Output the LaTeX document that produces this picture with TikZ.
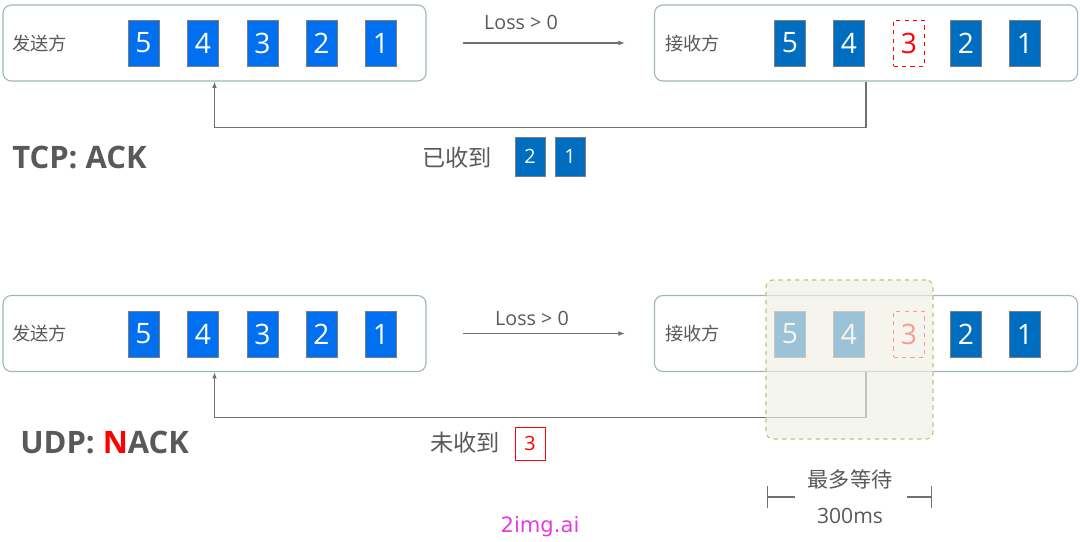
\documentclass[tikz,border=0pt]{standalone}
\usepackage{fontspec}
\setmainfont{Open Sans}
\newfontfamily\cjk{Noto Sans CJK SC}
\usepackage{xcolor}
\definecolor{boxline}{RGB}{160,182,188}
\definecolor{pktline}{RGB}{125,125,125}
\definecolor{sendblue}{RGB}{0,112,240}
\definecolor{recvblue}{RGB}{0,110,192}
\definecolor{textgray}{RGB}{89,89,89}
\definecolor{linegray}{RGB}{112,112,112}
\definecolor{lossred}{RGB}{255,0,0}
\definecolor{waitfill}{RGB}{240,240,230}
\definecolor{waitline}{RGB}{190,196,120}
\definecolor{markcolor}{RGB}{228,60,228}
\usepackage{tikz}
\usetikzlibrary{positioning,arrows.meta,calc}
\tikzset{
  endbox/.style={rectangle,rounded corners=6pt,draw=boxline,line width=0.8pt,
    fill=white,minimum width=10.575cm,minimum height=1.9cm,inner sep=0pt},
  rolelbl/.style={anchor=west,text=textgray,font=\fontsize{13}{13}\selectfont\cjk,inner sep=0pt},
  sendpkt/.style={rectangle,draw=pktline,line width=0.6pt,fill=sendblue,text=white,
    font=\fontsize{20}{20}\selectfont,minimum width=0.775cm,minimum height=1.15cm,inner sep=0pt},
  recvpkt/.style={sendpkt,fill=recvblue},
  losspkt/.style={sendpkt,fill=none,draw=lossred,dashed,text=lossred},
  smallpkt/.style={recvpkt,font=\fontsize{14}{14}\selectfont,minimum width=0.75cm,minimum height=0.975cm},
  lbl/.style={text=textgray,font=\fontsize{14}{14}\selectfont,inner sep=0pt},
  cjklbl/.style={text=textgray,font=\fontsize{16.5}{16.5}\selectfont\cjk,inner sep=0pt},
  title/.style={anchor=west,text=textgray,font=\fontsize{22}{22}\selectfont\bfseries,inner sep=0pt},
  fl/.style={-{Latex[length=1.6mm,width=1.2mm]},draw=linegray,line width=0.8pt},
  waitbox/.style={rectangle,rounded corners=5pt,draw=waitline,dashed,line width=0.8pt,
    fill=waitfill,fill opacity=0.65,minimum width=4.175cm,minimum height=3.975cm,inner sep=0pt},
  dim/.style={draw=linegray,line width=0.8pt},
}

\begin{document}
\begin{tikzpicture}[x=0.025cm,y=-0.025cm]
  \useasboundingbox (0,0) rectangle (1080,541);
  % TCP
  \node[endbox] (s1) at (214.5,43) {};
  \node[rolelbl] (s1lbl) at (12,44) {发送方};
  \foreach \n/\x in {5/143.5,4/203,3/262.5,2/321.5,1/381}{\node[sendpkt] (s1p\n) at (\x,43) {\n};}
  \node[endbox] (r1) at (866,43) {};
  \node[rolelbl] (r1lbl) at (665,44) {接收方};
  \foreach \n/\x in {5/790,4/849,2/966,1/1025}{\node[recvpkt] (r1p\n) at (\x,43) {\n};}
  \node[losspkt] (r1p3) at (909,43) {3};
  \draw[fl,shorten <=0.9cm,shorten >=0.725cm] (s1) -- (r1);
  \node[lbl] (loss1) at (521,22) {Loss > 0};
  \draw[fl] (r1.south) -- ++(0,46) -| (s1.south);
  \node[title] (tcp) at (12,157) {TCP: ACK};
  \node[cjklbl] (ack) at (457,158) {已收到};
  \node[smallpkt] (ack2) at (530,156.5) {2};
  \node[smallpkt] (ack1) at (570,156.5) {1};
  % UDP
  \node[endbox] (s2) at (214.5,333.5) {};
  \node[rolelbl] (s2lbl) at (12,334) {发送方};
  \foreach \n/\x in {5/143.5,4/203,3/262.5,2/321.5,1/381}{\node[sendpkt] (s2p\n) at (\x,334) {\n};}
  \node[endbox] (r2) at (866,333.5) {};
  \node[rolelbl] (r2lbl) at (665,334) {接收方};
  \foreach \n/\x in {5/790,4/849,2/966,1/1025}{\node[recvpkt] (r2p\n) at (\x,334) {\n};}
  \node[losspkt] (r2p3) at (909,334) {3};
  \draw[fl,shorten <=0.9cm,shorten >=0.725cm] (s2) -- (r2);
  \node[lbl] (loss2) at (532,318) {Loss > 0};
  \draw[fl] (r2.south) -- ++(0,45) -| (s2.south);
  \node[waitbox] (wait) at (849.5,359.5) {};
  \node[title] (udp) at (20,442) {UDP: {\color{lossred}N}ACK};
  \node[cjklbl] (nack) at (465,443) {未收到};
  \node[smallpkt,fill=none,draw=lossred,text=lossred,minimum height=0.825cm] (nack3) at (530,443.5) {3};
  % 300ms
  \node[cjklbl,font=\fontsize{15}{15}\selectfont\cjk] (waitlbl) at (850,479) {最多等待};
  \node[lbl,font=\fontsize{15}{15}\selectfont] (mslbl) at (850,516) {300ms};
  \draw[dim,{Bar[width=5.5mm]}-] (767,497) -- (795,497);
  \draw[dim,-{Bar[width=5.5mm]}] (907,497) -- (932,497);
  \node[font=\fontsize{15}{15}\selectfont,text=markcolor] (mark) at (540,527) {\fontspec{DejaVu Sans}2img.ai};
\end{tikzpicture}
\end{document}
